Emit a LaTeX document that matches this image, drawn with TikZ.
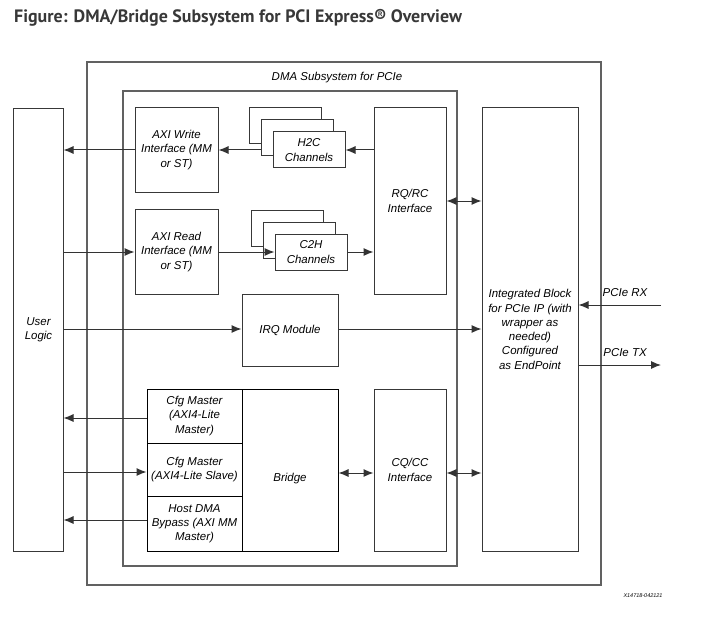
\documentclass[tikz,border=0pt]{standalone}
\usepackage{fontspec}
\setmainfont{Liberation Sans}
\newfontfamily\titlefont{PT Sans}
\usetikzlibrary{arrows.meta}
\begin{document}
\begin{tikzpicture}[x=1bp,y=-1bp,
  sz/.style 2 args={minimum width=#1bp, minimum height=#2bp},
  txt/.style={font=\fontsize{11.5}{14.3}\selectfont\itshape, align=center},
  box/.style={draw=black!78, line width=1bp, fill=white, txt, inner sep=0pt},
  dbox/.style={box, draw=black},
  frame/.style={draw=black!62, line width=1.4bp, inner sep=0pt},
  tip/.tip={Latex[length=10bp,width=8bp]},
  arr/.style={draw=black!80, line width=1bp, -tip},
  biarr/.style={draw=black!80, line width=1bp, tip-tip},
]
\useasboundingbox[fill=white] (0,0) rectangle (703,618);
\node[anchor=west, font=\titlefont\bfseries\fontsize{18}{20}\selectfont, text=black!78, inner sep=0pt] (title) at (14,18) {Figure: DMA/Bridge Subsystem for PCI Express® Overview};

% frames
\node[frame, sz={514}{523}] (outer) at (344,323.5) {};
\node[txt, inner sep=0pt] (dmalabel) at (337,78) {DMA Subsystem for PCIe};
\node[frame, sz={334}{475}] (inner) at (290,328.5) {};

% user logic
\node[box, sz={49}{442}] (user) at (38.5,330) {User\\Logic};

% AXI interfaces
\node[box, sz={83}{84}] (axiw) at (176.5,150) {AXI Write\\Interface (MM\\or ST)};
\node[box, sz={83}{84}] (axir) at (176.5,252) {AXI Read\\Interface (MM\\or ST)};

% H2C stack
\node[box, sz={72}{36}] (h2cb) at (285,126) {};
\node[box, sz={72}{36}] (h2cm) at (297,138) {};
\node[box, sz={72}{36}] (h2cf) at (309,150) {H2C\\Channels};

% C2H stack
\node[box, sz={72}{36}] (c2hb) at (287,228) {};
\node[box, sz={72}{36}] (c2hm) at (299,240) {};
\node[box, sz={72}{36}] (c2hf) at (311,252) {C2H\\Channels};

% interfaces
\node[box, sz={72}{186}] (rqrc) at (410,201) {RQ/RC\\Interface};
\node[box, sz={96}{443}] (integ) at (530,329.5) {Integrated Block\\for PCIe IP (with\\wrapper as\\needed)\\Configured\\as EndPoint};
\node[box, sz={96}{72}] (irq) at (290,330) {IRQ Module};
\node[box, sz={72}{162}] (cqcc) at (410,470) {CQ/CC\\Interface};

% bridge
\node[dbox, sz={96}{162}] (bridge) at (290,470) {\raisebox{-11bp}[0pt][0pt]{Bridge}};
\node[dbox, sz={95}{54}] (cfgm) at (194.5,416) {Cfg Master\\(AXI4-Lite\\Master)};
\node[dbox, sz={95}{53}] (cfgs) at (194.5,469.5) {Cfg Master\\(AXI4-Lite Slave)};
\node[dbox, sz={95}{55}] (hostdma) at (194.5,523.5) {Host DMA\\Bypass (AXI MM\\Master)};

% connectors
\draw[arr] (axiw.west) -- (axiw.west -| user.east);
\draw[arr] (h2cf.west -| h2cm.west) -- (axiw.east);
\draw[arr] (rqrc.west |- h2cf.west) -- (h2cf.east);
\draw[arr] (user.east |- axir.west) -- (axir.west);
\draw[arr] (axir.east) -- (c2hf.west);
\draw[arr] (c2hf.east) -- (c2hf.east -| rqrc.west);
\draw[biarr] (rqrc.east) -- (rqrc.east -| integ.west);
\draw[arr] ([yshift=1bp]user.east |- irq.west) -- ([yshift=1bp]irq.west);
\draw[arr] ([yshift=1bp]irq.east) -- ([yshift=1bp]irq.east -| integ.west);
\draw[arr] ([yshift=-2bp]cfgm.west) -- ([yshift=-2bp]cfgm.west -| user.east);
\draw[arr] ([yshift=-2.5bp]user.east |- cfgs.west) -- ([yshift=-2.5bp]cfgs.west);
\draw[arr] ([yshift=3.5bp]hostdma.west) -- ([yshift=3.5bp]hostdma.west -| user.east);
\draw[biarr] ([yshift=-3bp]bridge.east) -- ([yshift=-3bp]bridge.east -| cqcc.west);
\draw[biarr] ([yshift=-3bp]cqcc.east) -- ([yshift=-3bp]cqcc.east -| integ.west);

% PCIe RX / TX
\coordinate (rx) at (661,305);
\coordinate (tx) at (661,365);
\draw[arr] (rx) -- (rx -| integ.east);
\draw[arr] (tx -| integ.east) -- (tx);
\node[txt, inner sep=0pt] (rxl) at (625,293) {PCIe RX};
\node[txt, inner sep=0pt] (txl) at (625,353) {PCIe TX};

% footnote
\node[font=\fontsize{5.5}{6}\selectfont\itshape, inner sep=0pt] (fig) at (643,596) {X14718-042121};
\end{tikzpicture}
\end{document}
